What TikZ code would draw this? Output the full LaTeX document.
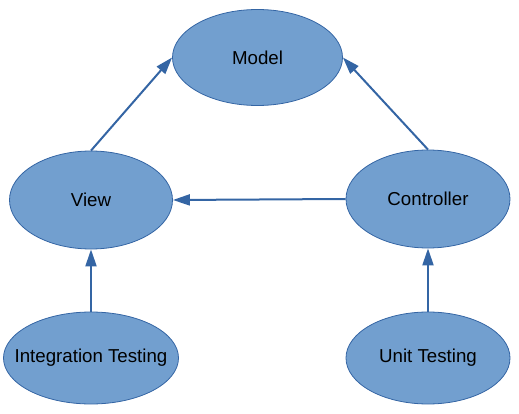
\documentclass[tikz,border=0pt]{standalone}
\usepackage{fontspec}
\setmainfont{Liberation Sans}
\usetikzlibrary{shapes.geometric,arrows.meta}
\definecolor{boxfill}{HTML}{729FCF}
\definecolor{boxline}{HTML}{3465A4}
\begin{document}
\begin{tikzpicture}[x=1pt,y=-1pt,
  part/.style={ellipse,draw=boxline,fill=boxfill,line width=0.8pt,inner ysep=0pt,inner xsep=-25pt,
    minimum height=96pt,font=\fontsize{18.7pt}{21pt}\selectfont},
  link/.style={draw=boxline,line width=2pt,-{Triangle[length=17pt,width=11pt]}}]
\useasboundingbox (0,0) rectangle (519,414);
%elipses
  \node[part,minimum width=170pt] (model) at (257.5,57.5) {Model};
  \node[part,minimum width=163pt,minimum height=98pt] (view) at (91,200) {View};
  \node[part,minimum width=164pt,minimum height=98pt] (ctrl) at (428,199) {Controller};
  \node[part,minimum width=175pt,minimum height=92pt] (integ) at (91,358) {Integration Testing};
  \node[part,minimum width=164pt,minimum height=92pt] (unit) at (428,358) {Unit Testing};
%setas
  \draw[link] (view.north) -- (model.west);
  \draw[link] (ctrl.north) -- (model.east);
  \draw[link] (ctrl.west) -- (view.east);
  \draw[link] (integ.north) -- (view.south);
  \draw[link] (unit.north) -- (ctrl.south);
\end{tikzpicture}
\end{document}
